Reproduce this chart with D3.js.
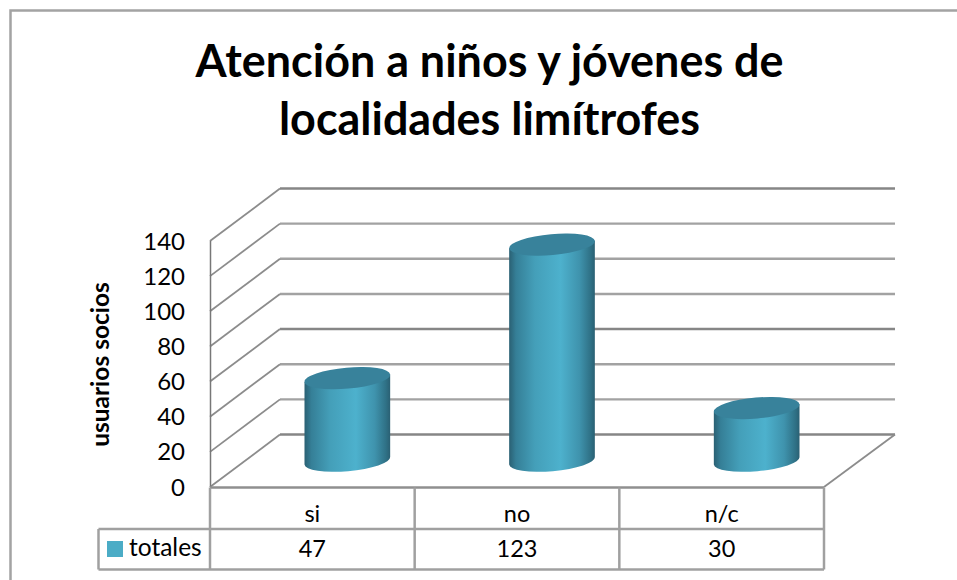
<!DOCTYPE html>
<html><head><meta charset="utf-8">
<script src="https://cdnjs.cloudflare.com/ajax/libs/d3/7.8.5/d3.min.js"></script>
<style>html,body{margin:0;padding:0;background:#fff;overflow:hidden}svg{display:block}text{font-family:Lato,"Open Sans",sans-serif;fill:#000}</style>
</head><body><svg id="c" width="957" height="580"></svg>
<script>
const titleLines = ["Atención a niños y jóvenes de", "localidades limítrofes"];
const yTitle = "usuarios socios";
const categories = ["si", "no", "n/c"];
const seriesName = "totales";
const values = [47, 123, 30];
const yTicks = [0, 20, 40, 60, 80, 100, 120, 140];

const svg = d3.select("#c");
const y = d3.scaleLinear().domain([0, 140]).range([487, 241]);
const x = d3.scaleBand().domain(categories).range([210, 824]);
const depth = {dx: 70, dy: -52.5};

// frame
svg.append("path").attr("d", "M10.5,580V10.5H957").attr("fill", "none").attr("stroke", "#a3a3a3").attr("stroke-width", 2.5);

// title
svg.selectAll("text.t").data(titleLines).join("text").attr("class", "t")
  .attr("x", 489.5).attr("y", (d, i) => 76.5 + i * 58.5)
  .attr("text-anchor", "middle").attr("font-weight", 700).attr("font-size", 44.9).text(d => d);

// walls
const g = svg.append("g");
yTicks.forEach(t => {
  g.append("line").attr("x1", x.range()[0] + depth.dx).attr("x2", x.range()[0]+depth.dx+615)
    .attr("y1", y(t) + depth.dy).attr("y2", y(t) + depth.dy)
    .attr("stroke", (t === 0 || t === 60 || t === 140) ? "#868686" : "#a2a2a2").attr("stroke-width", 2.4);
  g.append("line").attr("x1", x.range()[0]).attr("x2", x.range()[0] + depth.dx)
    .attr("y1", y(t)).attr("y2", y(t) + depth.dy).attr("stroke", "#8c8c8c").attr("stroke-width", 1.8);
});
g.append("line").attr("x1", 210.5).attr("x2", 210.5).attr("y1", y(140)).attr("y2", y(0)).attr("stroke", "#777").attr("stroke-width", 1.5);
g.append("line").attr("x1", x.range()[1]).attr("x2", x.range()[1] + depth.dx + 1)
  .attr("y1", y(0)).attr("y2", y(0) + depth.dy).attr("stroke", "#8c8c8c").attr("stroke-width", 1.8);

// tick labels
svg.selectAll("text.tick").data(yTicks).join("text").attr("class", "tick")
  .attr("x", 185).attr("y", d => y(d) + 8.5).attr("text-anchor", "end").attr("font-size", 24).text(d => d);

// axis title
svg.append("text").attr("transform", "translate(109,364.5) rotate(-90)")
  .attr("text-anchor", "middle").attr("font-weight", 700).attr("font-size", 24.5).text(yTitle);

// cylinders
const defs = svg.append("defs");
const grad = defs.append("linearGradient").attr("id", "cyl").attr("x1", 0).attr("x2", 1).attr("y1", 0).attr("y2", 0);
[[0, "#2a6073"], [0.08, "#357f97"], [0.3, "#449fb9"], [0.6, "#4db1cd"], [0.82, "#3f93ad"], [0.95, "#2f7186"], [1, "#2a6073"]]
  .forEach(s => grad.append("stop").attr("offset", s[0]).attr("stop-color", s[1]));

const rx = 43, ry = 10.5, tilt = 5, rad = tilt * Math.PI / 180;
const ex = rx * Math.cos(rad), ey = rx * Math.sin(rad);
const mid = 0.5;
const hPerUnit = (y(0) - y(1));
categories.forEach((c, i) => {
  const cx = x(c) + x.bandwidth() / 2 + depth.dx * mid;
  const by = y(0) + depth.dy * mid;
  const ty = by - values[i] * hPerUnit;
  svg.append("path").attr("fill", "url(#cyl)")
    .attr("d", `M${cx - ex},${ty + ey}L${cx - ex},${by + ey}A${rx},${ry} ${-tilt} 0 0 ${cx + ex},${by - ey}L${cx + ex},${ty - ey}Z`);
  svg.append("ellipse").attr("cx", 0).attr("cy", 0).attr("rx", rx).attr("ry", ry)
    .attr("transform", `translate(${cx},${ty}) rotate(${-tilt})`).attr("fill", "#38829b");
});

// data table
const rows = [487.5, 529, 569.5];
const tb = svg.append("g").attr("fill", "none").attr("stroke", "#a0a0a0").attr("stroke-width", 2.5);
const xEdges = [x.range()[0], ...categories.map(c => x(c) + x.bandwidth())];
tb.append("line").attr("x1", 210).attr("x2", 824).attr("y1", rows[0]).attr("y2", rows[0]).attr("stroke", "#8f8f8f");
tb.append("line").attr("x1", 98.5).attr("x2", 824).attr("y1", rows[1]).attr("y2", rows[1]);
tb.append("line").attr("x1", 98.5).attr("x2", 824).attr("y1", rows[2]).attr("y2", rows[2]);
tb.append("line").attr("x1", 98.5).attr("x2", 98.5).attr("y1", rows[1]).attr("y2", rows[2]);
xEdges.forEach(e => tb.append("line").attr("x1", e).attr("x2", e).attr("y1", rows[0]).attr("y2", rows[2]));

categories.forEach((c, i) => {
  const cx = x(c) + x.bandwidth() / 2;
  svg.append("text").attr("x", cx).attr("y", 521.5).attr("text-anchor", "middle").attr("font-size", 23.5).text(c);
  svg.append("text").attr("x", cx).attr("y", 557).attr("text-anchor", "middle").attr("font-size", 23.5).text(values[i]);
});
svg.append("rect").attr("x", 107).attr("y", 541).attr("width", 16).attr("height", 16).attr("fill", "#4bacc6");
svg.append("text").attr("x", 129).attr("y", 556).attr("font-size", 24.5).text(seriesName);
</script></body></html>
